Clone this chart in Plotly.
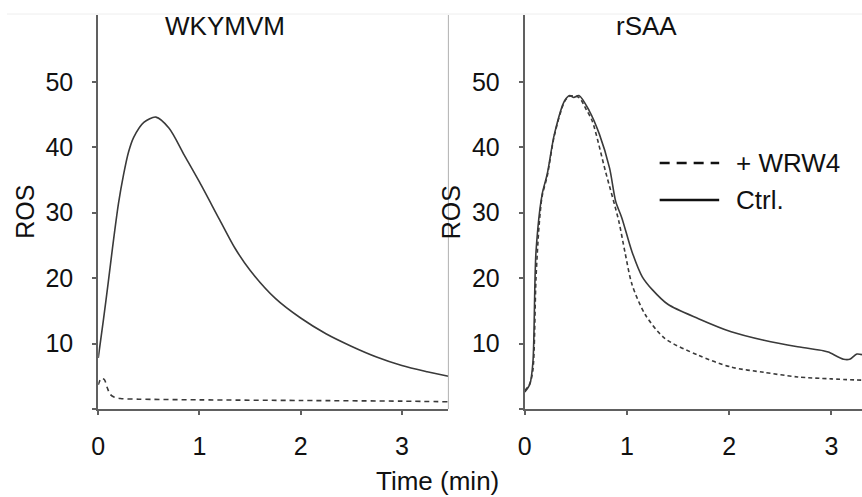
import plotly.graph_objects as go

# ---------------- data ----------------
left_t_ctrl = [0, 0.05, 0.10, 0.14, 0.20, 0.25, 0.30, 0.35, 0.45, 0.57, 0.70, 0.85, 1.00, 1.20,
               1.35, 1.50, 1.75, 2.00, 2.25, 2.50, 2.75, 3.00, 3.25, 3.46]
left_v_ctrl = [7.8, 13.5, 19.5, 24.5, 31.4, 35.8, 39.3, 41.5, 43.8, 44.6, 42.9, 38.8, 34.7, 28.9,
               24.6, 21.2, 16.9, 13.9, 11.5, 9.6, 7.95, 6.65, 5.7, 5.0]

left_t_wrw4 = [0, 0.03, 0.06, 0.09, 0.12, 0.16, 0.22, 0.40, 1.0, 2.0, 3.0, 3.46]
left_v_wrw4 = [3.7, 4.7, 4.5, 3.2, 2.2, 1.8, 1.6, 1.5, 1.4, 1.3, 1.2, 1.1]

right_t_ctrl = [0, 0.05, 0.08, 0.11, 0.17, 0.22, 0.29, 0.39, 0.44, 0.48, 0.53, 0.63, 0.73,
                0.83, 0.89, 0.95, 1.05, 1.15, 1.25, 1.40, 1.70, 2.02, 2.34, 2.67, 2.92, 2.97,
                3.12, 3.18, 3.25, 3.30]
right_v_ctrl = [2.6, 3.8, 7.2, 24.0, 32.8, 35.9, 42.0, 47.1, 47.9, 47.6, 47.9, 45.6, 42.0,
                36.8, 31.7, 29.2, 24.0, 20.2, 18.2, 16.0, 13.8, 11.8, 10.5, 9.5, 8.9, 8.7,
                7.6, 7.6, 8.4, 8.3]

right_t_wrw4 = [0, 0.05, 0.08, 0.11, 0.14, 0.17, 0.22, 0.29, 0.39, 0.44, 0.53, 0.60, 0.66,
                0.79, 0.92, 0.98, 1.05, 1.18, 1.37, 1.70, 2.02, 2.34, 2.67, 3.00, 3.30]
right_v_wrw4 = [2.8, 3.9, 6.0, 20.0, 28.0, 32.5, 35.6, 41.8, 47.0, 47.8, 47.6, 45.8, 44.0,
                36.3, 28.7, 24.0, 19.0, 14.4, 10.8, 8.2, 6.4, 5.6, 4.9, 4.6, 4.4]

panel_titles = ["WKYMVM", "rSAA"]
legend_labels = ["+ WRW4", "Ctrl."]
y_ticks = [10, 20, 30, 40, 50]
x_ticks = [0, 1, 2, 3]

# ---------------- layout helpers ----------------
W, H = 862, 497
def px(x):
    return x / W
def py(y):
    return 1 - y / H

FONT = "Liberation Sans, Arial, sans-serif"
CURVE = "#3a3a3a"
AXIS = "#606060"

fig = go.Figure()

def add(t, v, xa, ya, dash):
    fig.add_trace(go.Scatter(
        x=t, y=v, xaxis=xa, yaxis=ya, mode="lines", showlegend=False,
        line=dict(color=CURVE, width=1.6, dash=dash, shape="spline", smoothing=0.8),
        hoverinfo="skip"))

add(left_t_ctrl, left_v_ctrl, "x", "y", "solid")
add(left_t_wrw4, left_v_wrw4, "x", "y", "5px,4px")
add(right_t_ctrl, right_v_ctrl, "x2", "y2", "solid")
add(right_t_wrw4, right_v_wrw4, "x2", "y2", "4px,3px")

ydom = [py(409), py(15)]
common_x = dict(showgrid=False, zeroline=False, showline=True, linecolor=AXIS, linewidth=2,
                ticks="outside", ticklen=4, tickwidth=1.5, tickcolor=AXIS,
                tickvals=x_ticks, ticktext=[str(v) for v in x_ticks],
                tickfont=dict(family=FONT, size=25, color="#111"), ticklabelstandoff=10)
common_y = dict(showgrid=False, zeroline=False, showline=True, linecolor=AXIS, linewidth=2,
                ticks="outside", ticklen=4, tickwidth=1.5, tickcolor=AXIS,
                tickvals=[0] + y_ticks, ticktext=[""] + [str(v) for v in y_ticks],
                tickfont=dict(family=FONT, size=25, color="#111"), ticklabelstandoff=14,
                range=[0, 60.2])

fig.update_layout(
    width=W, height=H, margin=dict(l=0, r=0, t=0, b=0),
    paper_bgcolor="white", plot_bgcolor="white", showlegend=False,
    xaxis=dict(domain=[px(92), px(445)], range=[0, 3.46], anchor="y", **common_x),
    yaxis=dict(domain=ydom, anchor="x", **common_y),
    xaxis2=dict(domain=[px(522), 1.0], range=[0, 3.30], anchor="y2", **common_x),
    yaxis2=dict(domain=ydom, anchor="x2", **common_y),
)

# frame lines
fig.add_shape(type="line", xref="paper", yref="paper", x0=0, x1=1, y0=py(14), y1=py(14),
              line=dict(color="#eeeeee", width=1))
fig.add_shape(type="line", xref="paper", yref="paper", x0=px(445), x1=px(445), y0=py(15), y1=py(409),
              line=dict(color="#b0b0b0", width=1))

# titles
for txt, cx in zip(panel_titles, [220, 645]):
    fig.add_annotation(text=txt, x=px(cx), y=py(26), xref="paper", yref="paper",
                       showarrow=False, xanchor="center", yanchor="middle",
                       font=dict(family=FONT, size=26, color="#111"))
for cx in [18, 448]:
    fig.add_annotation(text="ROS", x=px(cx), y=py(212), xref="paper", yref="paper",
                       showarrow=False, textangle=-90, xanchor="center", yanchor="middle",
                       font=dict(family=FONT, size=25, color="#111"))
fig.add_annotation(text="Time (min)", x=px(434), y=py(481), xref="paper", yref="paper",
                   showarrow=False, xanchor="center", yanchor="middle",
                   font=dict(family=FONT, size=26, color="#111"))

# legend keys
for lbl, ly, dash in zip(legend_labels, [163, 200], ["10px,7px", "solid"]):
    fig.add_shape(type="line", xref="paper", yref="paper", x0=px(658), x1=px(718),
                  y0=py(ly), y1=py(ly), line=dict(color="#111", width=2.5, dash=dash))
    fig.add_annotation(text=lbl, x=px(733), y=py(ly), xref="paper", yref="paper",
                       showarrow=False, xanchor="left", yanchor="middle",
                       font=dict(family=FONT, size=26, color="#111"))

fig.write_html("out.html", config={"displayModeBar": False},
               post_script="document.body.style.margin='0';document.body.style.padding='0';")
